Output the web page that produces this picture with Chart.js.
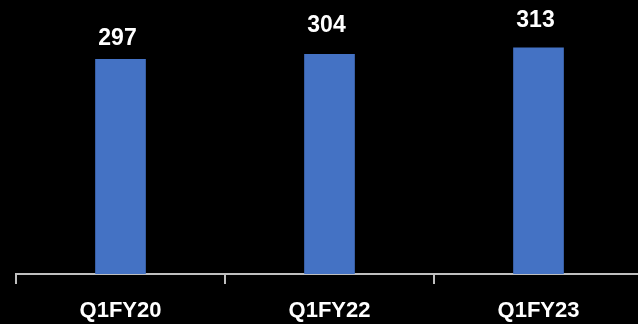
<!DOCTYPE html>
<html>
<head>
<meta charset="utf-8">
<script src="https://cdn.jsdelivr.net/npm/chart.js@4"></script>
<style>
html,body{margin:0;padding:0;background:#000;overflow:hidden;}
#wrap{position:absolute;left:0;top:0;width:645px;height:324px;}
</style>
</head>
<body>
<div id="wrap"><canvas id="c"></canvas></div>
<script>
const categories = ["Q1FY20", "Q1FY22", "Q1FY23"];
const values = [297, 304, 313];
const valueLabels = ["297", "304", "313"];

const labelOffsets = [14, 22, 21];

const dataLabelPlugin = {
  id: 'dataLabels',
  afterDatasetsDraw(chart) {
    const ctx = chart.ctx;
    const meta = chart.getDatasetMeta(0);
    ctx.save();
    ctx.font = 'bold 23px "Liberation Sans", Arial, sans-serif';
    ctx.fillStyle = '#ffffff';
    ctx.textAlign = 'center';
    ctx.textBaseline = 'alphabetic';
    meta.data.forEach((bar, i) => {
      ctx.fillText(valueLabels[i], bar.x - 3, bar.y - labelOffsets[i]);
    });
    ctx.restore();
  }
};

new Chart(document.getElementById('c'), {
  type: 'bar',
  data: {
    labels: categories,
    datasets: [{
      data: values,
      backgroundColor: '#4472C4',
      borderWidth: 0,
      barThickness: 50
    }]
  },
  options: {
    responsive: true,
    maintainAspectRatio: false,
    animation: false,
    layout: { padding: { left: 16, right: 2, top: 0, bottom: 0 } },
    plugins: { legend: { display: false }, tooltip: { enabled: false } },
    scales: {
      y: { display: false, min: 0, max: 379 },
      x: {
        afterFit(scale) { scale.height = 50; },
        border: { display: true, color: '#bfbfbf', width: 2 },
        grid: { display: true, offset: true, drawOnChartArea: false, drawTicks: true, tickLength: 10, color: '#bfbfbf', lineWidth: 2 },
        ticks: { color: '#ffffff', padding: 14, font: { family: '"Liberation Sans", Arial, sans-serif', size: 22, weight: 'bold' } }
      }
    }
  },
  plugins: [dataLabelPlugin]
});
</script>
</body>
</html>
